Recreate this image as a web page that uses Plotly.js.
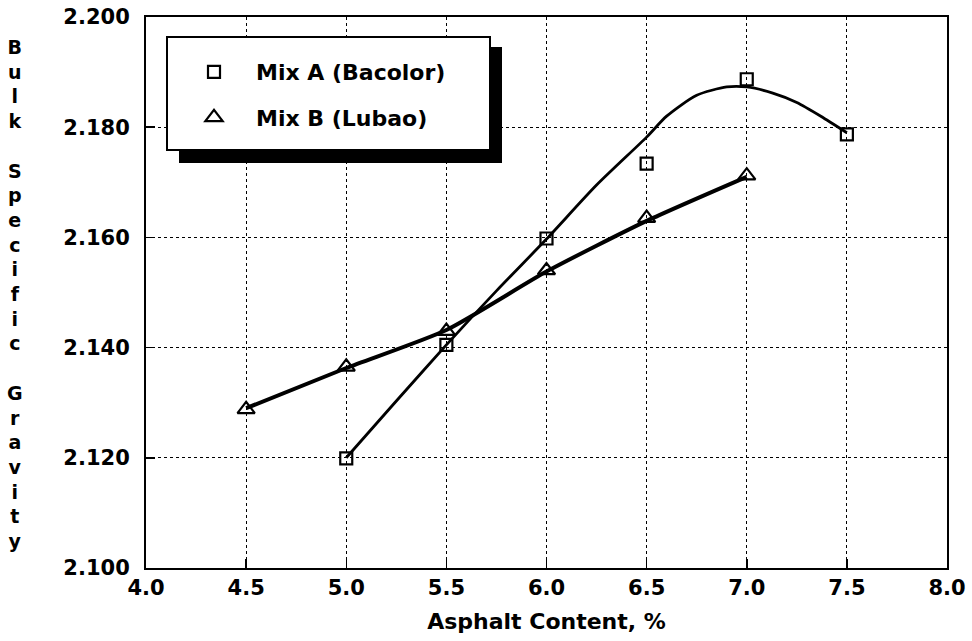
<!DOCTYPE html>
<html>
<head>
<meta charset="utf-8">
<script src="https://cdn.plot.ly/plotly-3.0.1.min.js"></script>
<style>html,body{margin:0;padding:0;background:#fff;}#chart{width:972px;height:641px;}</style>
</head>
<body>
<div id="chart"></div>
<script>
// Measured points
const asphaltA = [5.0, 5.5, 6.0, 6.5, 7.0, 7.5];
const gravityA = [2.1199, 2.1405, 2.1598, 2.1734, 2.1887, 2.1787];
const asphaltB = [4.5, 5.0, 5.5, 6.0, 6.5, 7.0];
const gravityB = [2.1288, 2.1365, 2.1430, 2.1540, 2.1635, 2.1712];
// Fitted curve for Mix A
const curveAx = [5.0, 5.25, 5.5, 5.75, 6.0, 6.25, 6.5, 6.6, 6.75, 6.9, 7.0, 7.13, 7.25, 7.37, 7.5];
const curveAy = [2.1200, 2.1303, 2.1405, 2.1503, 2.1597, 2.1695, 2.1782, 2.1820, 2.1858, 2.1873, 2.1873, 2.1862, 2.1845, 2.1820, 2.1790];
// Curve for Mix B
const curveBx = [4.5, 5.0, 5.5, 6.0, 6.5, 7.0];
const curveBy = [2.1290, 2.1363, 2.1432, 2.1538, 2.1630, 2.1710];
const seriesNames = ['Mix A (Bacolor)', 'Mix B (Lubao)'];
const xTicks = [4.0, 4.5, 5.0, 5.5, 6.0, 6.5, 7.0, 7.5, 8.0];
const yTicks = [2.100, 2.120, 2.140, 2.160, 2.180, 2.200];
const yTitle = 'Bulk Specific Gravity';

const FONT = 'DejaVu Sans, Arial, sans-serif';

const traces = [
  {x: curveAx, y: curveAy, mode: 'lines', line: {color: '#000', width: 2.8, shape: 'spline', smoothing: 0.7},
   showlegend: false, hoverinfo: 'skip'},
  {x: curveBx, y: curveBy, mode: 'lines', line: {color: '#000', width: 4, shape: 'spline', smoothing: 0.6},
   showlegend: false, hoverinfo: 'skip'},
  {x: asphaltA, y: gravityA, mode: 'markers', name: seriesNames[0], legendgroup: 'A',
   marker: {symbol: 'square-open', size: 12, color: '#000', line: {width: 2.2, color: '#000'}}},
  {x: asphaltB, y: gravityB, mode: 'markers', name: seriesNames[1], legendgroup: 'B',
   marker: {symbol: 'triangle-up-open', size: 15, color: '#000', line: {width: 2.2, color: '#000'}}}
];

// plot area in px
const L = 146, R = 25, T = 17, B = 73, W = 972, H = 641;
const pw = W - L - R, ph = H - T - B;
const px = v => (v - L) / pw;
const py = v => (H - B - v) / ph;

// vertical stacked title
const stacked = yTitle.split('').map(c => c === ' ' ? '' : c).join('<br>');

const layout = {
  width: W, height: H,
  margin: {l: L, r: R, t: T, b: B, pad: 0},
  paper_bgcolor: '#fff', plot_bgcolor: '#fff',
  font: {family: FONT, color: '#000', size: 20, weight: 'bold'},
  showlegend: true,
  legend: {
    x: px(172), y: py(51), xanchor: 'left', yanchor: 'top',
    bgcolor: 'rgba(0,0,0,0)', borderwidth: 0,
    font: {family: FONT, size: 22, color: '#000', weight: 'bold'},
    itemwidth: 74, tracegroupgap: 14
  },
  xaxis: {
    range: [4, 8], tickvals: xTicks, ticktext: xTicks.map(v => v.toFixed(1)),
    ticks: 'inside', ticklen: 9, tickwidth: 1.5, tickcolor: '#000',
    showline: true, linecolor: '#000', linewidth: 2, mirror: true,
    showgrid: true, gridcolor: '#000', gridwidth: 1, griddash: 'dot',
    zeroline: false,
    tickfont: {family: FONT, size: 21, color: '#000', weight: 'bold'},
    title: {text: 'Asphalt Content, %', font: {family: FONT, size: 22, color: '#000', weight: 'bold'}, standoff: 14}
  },
  yaxis: {
    range: [2.1, 2.2], tickvals: yTicks, ticktext: yTicks.map(v => v.toFixed(3)),
    ticks: 'inside', ticklen: 9, tickwidth: 1.5, tickcolor: '#000',
    showline: true, linecolor: '#000', linewidth: 2, mirror: true,
    showgrid: true, gridcolor: '#000', gridwidth: 1, griddash: 'dot',
    zeroline: false, ticklabelstandoff: 10,
    tickfont: {family: FONT, size: 21, color: '#000', weight: 'bold'}
  },
  shapes: [
    {type: 'rect', xref: 'paper', yref: 'paper', layer: 'above',
     x0: px(179), x1: px(502), y0: py(47), y1: py(163),
     fillcolor: '#000', line: {width: 0}},
    {type: 'rect', xref: 'paper', yref: 'paper', layer: 'above',
     x0: px(167), x1: px(490), y0: py(37), y1: py(150),
     fillcolor: '#fff', line: {width: 2, color: '#000'}}
  ],
  annotations: [
    {text: stacked, xref: 'paper', yref: 'paper', x: px(15), y: py(294),
     xanchor: 'center', yanchor: 'middle', showarrow: false, align: 'center',
     font: {family: FONT, size: 19, color: '#000', weight: 'bold'}}
  ]
};

Plotly.newPlot('chart', traces, layout, {staticPlot: true, displayModeBar: false});
</script>
</body>
</html>
